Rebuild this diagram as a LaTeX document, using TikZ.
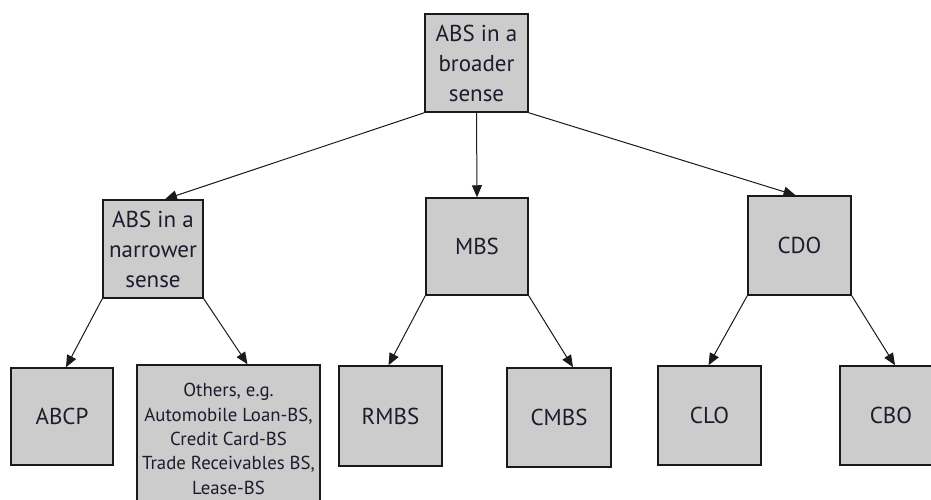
\documentclass[tikz,border=0pt]{standalone}
\usepackage{fontspec}
\setmainfont{PT Sans}
\usetikzlibrary{arrows.meta}
\definecolor{boxfill}{HTML}{CCCCCC}
\definecolor{boxline}{HTML}{1A1A1A}
\definecolor{inktext}{HTML}{1C1C2C}
\tikzset{
  catbox/.style={draw=boxline, line width=1.5pt, fill=boxfill, text=inktext,
    minimum width=102pt, minimum height=98pt, inner sep=0pt, align=center,
    font=\fontsize{23}{30}\selectfont},
  smallbox/.style={catbox, font=\fontsize{18.8}{24.3}\selectfont},
  link/.style={draw=boxline, line width=1pt, -{Triangle[length=12pt,width=10pt]}}
}
\begin{document}
\begin{tikzpicture}[x=1pt,y=-1pt]
\useasboundingbox (0,0) rectangle (931,499);
\clip (0,0) rectangle (931,499);
% top level
\node[catbox, minimum width=103pt] (abs) at (476.5,63) {ABS in a\\broader\\sense};
% second level
\node[catbox, minimum width=100pt] (narrow) at (153,249) {ABS in a\\narrower\\sense};
\node[catbox, minimum height=97pt] (mbs) at (477,246.5) {MBS};
\node[catbox, minimum width=103pt, minimum height=99pt] (cdo) at (799.5,245.5) {CDO};
% third level
\node[catbox, minimum height=97pt] (abcp) at (62,416.5) {ABCP};
\node[smallbox, minimum width=183pt, minimum height=148pt] (others) at (228.5,439)
  {Others, e.g.\\Automobile Loan-BS,\\Credit Card-BS\\Trade Receivables BS,\\Lease-BS};
\node[catbox, minimum width=103pt, minimum height=100pt] (rmbs) at (390.5,416) {RMBS};
\node[catbox, minimum width=104pt, minimum height=99pt] (cmbs) at (559,417.5) {CMBS};
\node[catbox, minimum width=103pt, minimum height=99pt] (clo) at (709.5,415.5) {CLO};
\node[catbox, minimum height=99pt] (cbo) at (891,415.5) {CBO};
% connectors
\draw[link] (abs.south west) -- ([xshift=12pt]narrow.north);
\draw[link] (abs.south) -- (mbs.north);
\draw[link] (abs.south east) -- ([xshift=-4pt]cdo.north);
\draw[link] (narrow.south west) -- ([xshift=4pt]abcp.north);
\draw[link] (narrow.south east) -- ([xshift=19pt]others.north);
\draw[link] (mbs.south west) -- ([xshift=-2pt]rmbs.north);
\draw[link] (mbs.south east) -- ([xshift=14pt]cmbs.north);
\draw[link] (cdo.south west) -- ([xshift=-1pt]clo.north);
\draw[link] (cdo.south east) -- ([xshift=4pt]cbo.north);
\end{tikzpicture}
\end{document}
